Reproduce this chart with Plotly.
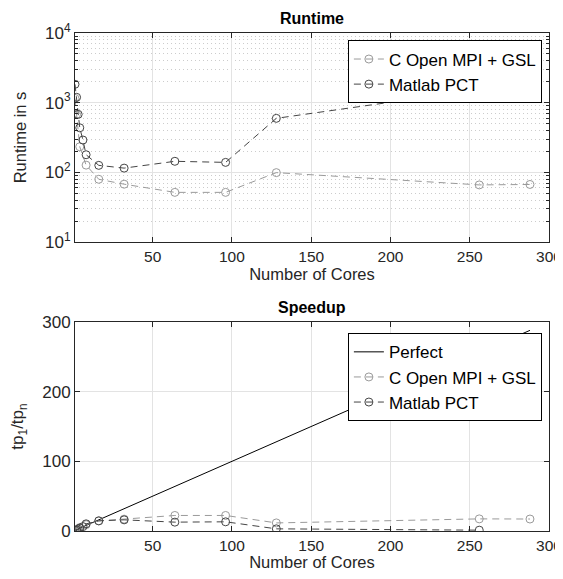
import plotly.graph_objects as go
from plotly.subplots import make_subplots

# ---- data ----
cores_c = [1, 2, 4, 8, 16, 32, 64, 96, 128, 256, 288]
runtime_c = [1150, 680, 233, 127, 79.5, 67.6, 51.6, 51.6, 99, 66, 67]
speedup_c = [1, 1.7, 4.9, 9.1, 14.5, 17.0, 22.3, 22.3, 11.6, 17.4, 17.2]

cores_matlab = [1, 2, 3, 4, 6, 8, 16, 32, 64, 96, 128, 256]
runtime_matlab = [1836, 1194, 680, 436, 291, 179, 126, 115, 144, 139, 596, 1537]
speedup_matlab = [1, 1.5, 2.7, 4.2, 6.3, 10.3, 14.6, 16.0, 12.7, 13.2, 3.1, 1.2]

cores_perfect = [1, 288]
speedup_perfect = [1, 288]

x_ticks = [50, 100, 150, 200, 250, 300]
log_ticks = [10, 100, 1000, 10000]
log_labels = ["10<sup>1</sup>", "10<sup>2</sup>", "10<sup>3</sup>", "10<sup>4</sup>"]
lin_ticks = [0, 100, 200, 300]

# minor log ticks 2..9 in each decade (axis styling)
log_minor = [m * d for d in (10, 100, 1000) for m in range(2, 10)]

FONT = "Liberation Sans, Arial, sans-serif"
AX = "#262626"
C_GRAY = "#9a9a9a"
M_GRAY = "#454545"
GRID = "#e3e3e3"
DASH = "7px,5px"

fig = make_subplots(rows=2, cols=1)

marker = dict(symbol="circle-open", size=8, line=dict(width=1))

fig.add_trace(go.Scatter(
    x=cores_c, y=runtime_c, name="C Open MPI + GSL", mode="lines+markers",
    line=dict(color=C_GRAY, width=1, dash=DASH),
    marker=dict(marker, color=C_GRAY), legend="legend"), row=1, col=1)
fig.add_trace(go.Scatter(
    x=cores_matlab, y=runtime_matlab, name="Matlab PCT", mode="lines+markers",
    line=dict(color=M_GRAY, width=1, dash=DASH),
    marker=dict(marker, color=M_GRAY), legend="legend"), row=1, col=1)

fig.add_trace(go.Scatter(
    x=cores_perfect, y=speedup_perfect, name="Perfect", mode="lines",
    line=dict(color="black", width=1), legend="legend2"), row=2, col=1)
fig.add_trace(go.Scatter(
    x=cores_c, y=speedup_c, name="C Open MPI + GSL", mode="lines+markers",
    line=dict(color=C_GRAY, width=1, dash=DASH),
    marker=dict(marker, color=C_GRAY), legend="legend2"), row=2, col=1)
fig.add_trace(go.Scatter(
    x=cores_matlab, y=speedup_matlab, name="Matlab PCT", mode="lines+markers",
    line=dict(color=M_GRAY, width=1, dash=DASH),
    marker=dict(marker, color=M_GRAY), legend="legend2"), row=2, col=1)

common_x = dict(
    range=[1, 300], tickvals=x_ticks, ticks="inside", ticklen=5,
    showline=True, linecolor=AX, linewidth=1, mirror="ticks",
    showgrid=True, gridcolor=GRID, zeroline=False, automargin=False,
    tickfont=dict(size=15.5, color=AX), tickcolor=AX,
    title=dict(text="Number of Cores", font=dict(size=16.5, color=AX), standoff=2),
)

fig.update_xaxes(common_x, row=1, col=1)
fig.update_xaxes(common_x, row=2, col=1)

fig.update_yaxes(
    type="log", range=[1, 4], tickvals=log_ticks, ticktext=log_labels,
    ticks="inside", ticklen=5, showline=True, linecolor=AX, linewidth=1,
    mirror="ticks", showgrid=True, gridcolor=GRID, zeroline=False, automargin=False,
    tickfont=dict(size=17, color=AX), tickcolor=AX,
    minor=dict(tickvals=log_minor, ticks="inside", ticklen=3, tickcolor=AX,
               showgrid=True, gridcolor="#cccccc", griddash="1px,3px"),
    title=dict(text="Runtime in s", font=dict(size=16.5, color=AX), standoff=14),
    row=1, col=1)

fig.update_yaxes(
    range=[0, 300], tickvals=lin_ticks,
    ticks="inside", ticklen=5, showline=True, linecolor=AX, linewidth=1,
    mirror="ticks", showgrid=True, gridcolor=GRID, zeroline=False, automargin=False,
    tickfont=dict(size=17, color=AX), tickcolor=AX,
    title=dict(text="tp<sub>1</sub>/tp<sub>n</sub>", font=dict(size=17, color=AX), standoff=14),
    row=2, col=1)

legend_style = dict(
    xanchor="right", yanchor="top", bgcolor="white",
    bordercolor="black", borderwidth=1, font=dict(size=17, color="black", family=FONT),
    itemwidth=30, tracegroupgap=0,
)

# page body adds an 8px margin, so the figure is drawn 8px in from the corner
fig.update_layout(
    width=555, height=563,
    margin=dict(l=67, r=14, t=25, b=40, autoexpand=False),
    paper_bgcolor="white", plot_bgcolor="white",
    font=dict(family=FONT, color=AX),
    xaxis=dict(domain=[0, 1]), xaxis2=dict(domain=[0, 1]),
    yaxis=dict(domain=[0.5803, 1]), yaxis2=dict(domain=[0, 0.4197]),
    legend=dict(legend_style, x=0.985, y=0.985),
    legend2=dict(legend_style, x=0.985, y=0.397),
    annotations=[
        dict(text="<b>Runtime</b>", x=0.5, y=1.0, xref="paper", yref="paper",
             xanchor="center", yanchor="bottom", yshift=4, showarrow=False,
             font=dict(size=16, color="black")),
        dict(text="<b>Speedup</b>", x=0.5, y=0.4197, xref="paper", yref="paper",
             xanchor="center", yanchor="bottom", yshift=4, showarrow=False,
             font=dict(size=16, color="black")),
    ],
)

fig.write_html("out.html")
